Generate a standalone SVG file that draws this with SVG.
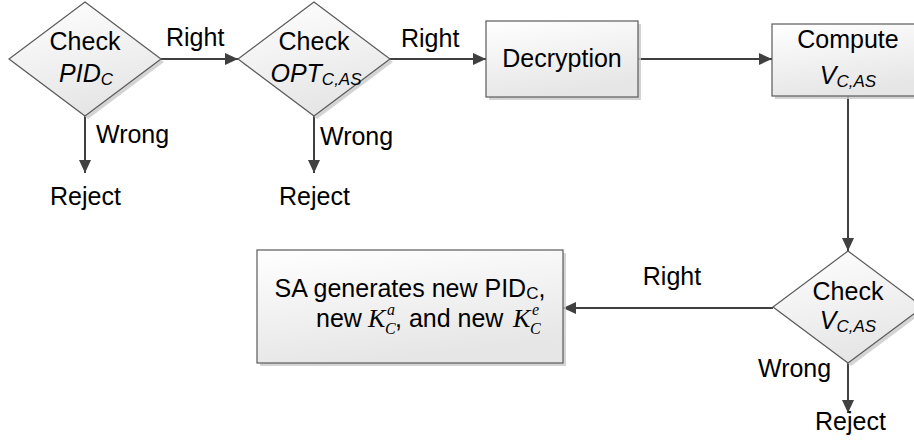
<svg xmlns="http://www.w3.org/2000/svg" width="914" height="440" viewBox="0 0 914 440">
  <defs>
    <linearGradient id="fillGrad" x1="0" y1="0" x2="0.3" y2="1">
      <stop offset="0" stop-color="#ffffff"/>
      <stop offset="1" stop-color="#e6e6e6"/>
    </linearGradient>
    <marker id="arrow" markerUnits="userSpaceOnUse" markerWidth="13" markerHeight="12" refX="13" refY="6" orient="auto">
      <path d="M0,0 L13,6 L0,12 z" fill="#404040"/>
    </marker>
    <style>
      .shape { fill: url(#fillGrad); stroke: #5a5a5a; stroke-width: 1.2; }
      .shadow { fill: #c9c9c9; stroke: none; opacity: 0.8; }
      .conn { stroke: #404040; stroke-width: 2; fill: none; marker-end: url(#arrow); }
      text { font-family: "Liberation Sans", Arial, sans-serif; font-size: 25px; fill: #000; }
      .mid { text-anchor: middle; }
      .it { font-style: italic; }
      .sub { font-size: 17px; }
      .math { font-family: "Liberation Serif", "Times New Roman", serif; font-style: italic; font-size: 26px; }
      .script { font-family: "Liberation Serif", "Times New Roman", serif; font-style: italic; font-size: 16px; }
    </style>
  </defs>

  <!-- connectors -->
  <g id="connectors">
    <line class="conn" x1="161" y1="59" x2="238" y2="59"/>
    <line class="conn" x1="390" y1="59" x2="486" y2="59"/>
    <line class="conn" x1="638" y1="59" x2="772" y2="59"/>
    <line class="conn" x1="848" y1="96" x2="848" y2="251"/>
    <line class="conn" x1="773" y1="308" x2="563" y2="308"/>
    <line class="conn" x1="85" y1="116" x2="85" y2="173"/>
    <line class="conn" x1="314" y1="116" x2="314" y2="173"/>
    <line class="conn" x1="848" y1="363" x2="848" y2="413"/>
    <text x="166" y="46">Right</text>
    <text x="401" y="47">Right</text>
    <text class="mid" x="672" y="285">Right</text>
    <text x="96" y="143">Wrong</text>
    <text x="320" y="145">Wrong</text>
    <text x="758" y="377">Wrong</text>
  </g>

  <!-- decision: check PID_C -->
  <g id="checkPID">
    <polygon class="shadow" points="88,5 164,62 88,119 12,62"/>
    <polygon class="shape" points="85,2 161,59 85,116 9,59"/>
    <text class="mid" x="85" y="50">Check</text>
    <text class="mid it" x="86" y="82">PID<tspan class="sub" dy="3">C</tspan></text>
  </g>

  <!-- decision: check OPT_C,AS -->
  <g id="checkOPT">
    <polygon class="shadow" points="317,5 393,62 317,119 241,62"/>
    <polygon class="shape" points="314,2 390,59 314,116 238,59"/>
    <text class="mid" x="314" y="50">Check</text>
    <text class="mid it" x="316" y="82">OPT<tspan class="sub" dy="3">C,AS</tspan></text>
  </g>

  <!-- process: decryption -->
  <g id="decryption">
    <rect class="shadow" x="489" y="24" width="152" height="76"/>
    <rect class="shape" x="486" y="21" width="152" height="76"/>
    <text class="mid" x="562" y="67">Decryption</text>
  </g>

  <!-- process: compute V_C,AS -->
  <g id="computeV">
    <rect class="shadow" x="775" y="27" width="152" height="72"/>
    <rect class="shape" x="772" y="24" width="152" height="72"/>
    <text class="mid" x="848" y="48">Compute</text>
    <text class="mid it" x="848" y="84">V<tspan class="sub" dy="3">C,AS</tspan></text>
  </g>

  <!-- decision: check V_C,AS -->
  <g id="checkV">
    <polygon class="shadow" points="851,254 926,310 851,366 776,310"/>
    <polygon class="shape" points="848,251 923,307 848,363 773,307"/>
    <text class="mid" x="848" y="300">Check</text>
    <text class="mid it" x="848" y="329">V<tspan class="sub" dy="3">C,AS</tspan></text>
  </g>

  <!-- process: key regeneration -->
  <g id="regenerate">
    <rect class="shadow" x="260" y="253" width="306" height="113"/>
    <rect class="shape" x="257" y="250" width="306" height="113"/>
    <text class="mid" x="410" y="297">SA generates new PID<tspan class="sub" dy="2">C</tspan><tspan dy="-2">,</tspan></text>
    <text x="316" y="327">new</text>
    <text class="math" x="368" y="327">K</text>
    <text class="script" x="387" y="315">a</text>
    <text class="script" x="385" y="334">C</text>
    <text x="395" y="327">, and new</text>
    <text class="math" x="513" y="327">K</text>
    <text class="script" x="532" y="315">e</text>
    <text class="script" x="530" y="334">C</text>
  </g>

  <!-- terminal outcomes -->
  <g id="reject1">
    <text x="50" y="205">Reject</text>
  </g>
  <g id="reject2">
    <text x="279" y="205">Reject</text>
  </g>
  <g id="reject3">
    <text x="815" y="430">Reject</text>
  </g>
</svg>
